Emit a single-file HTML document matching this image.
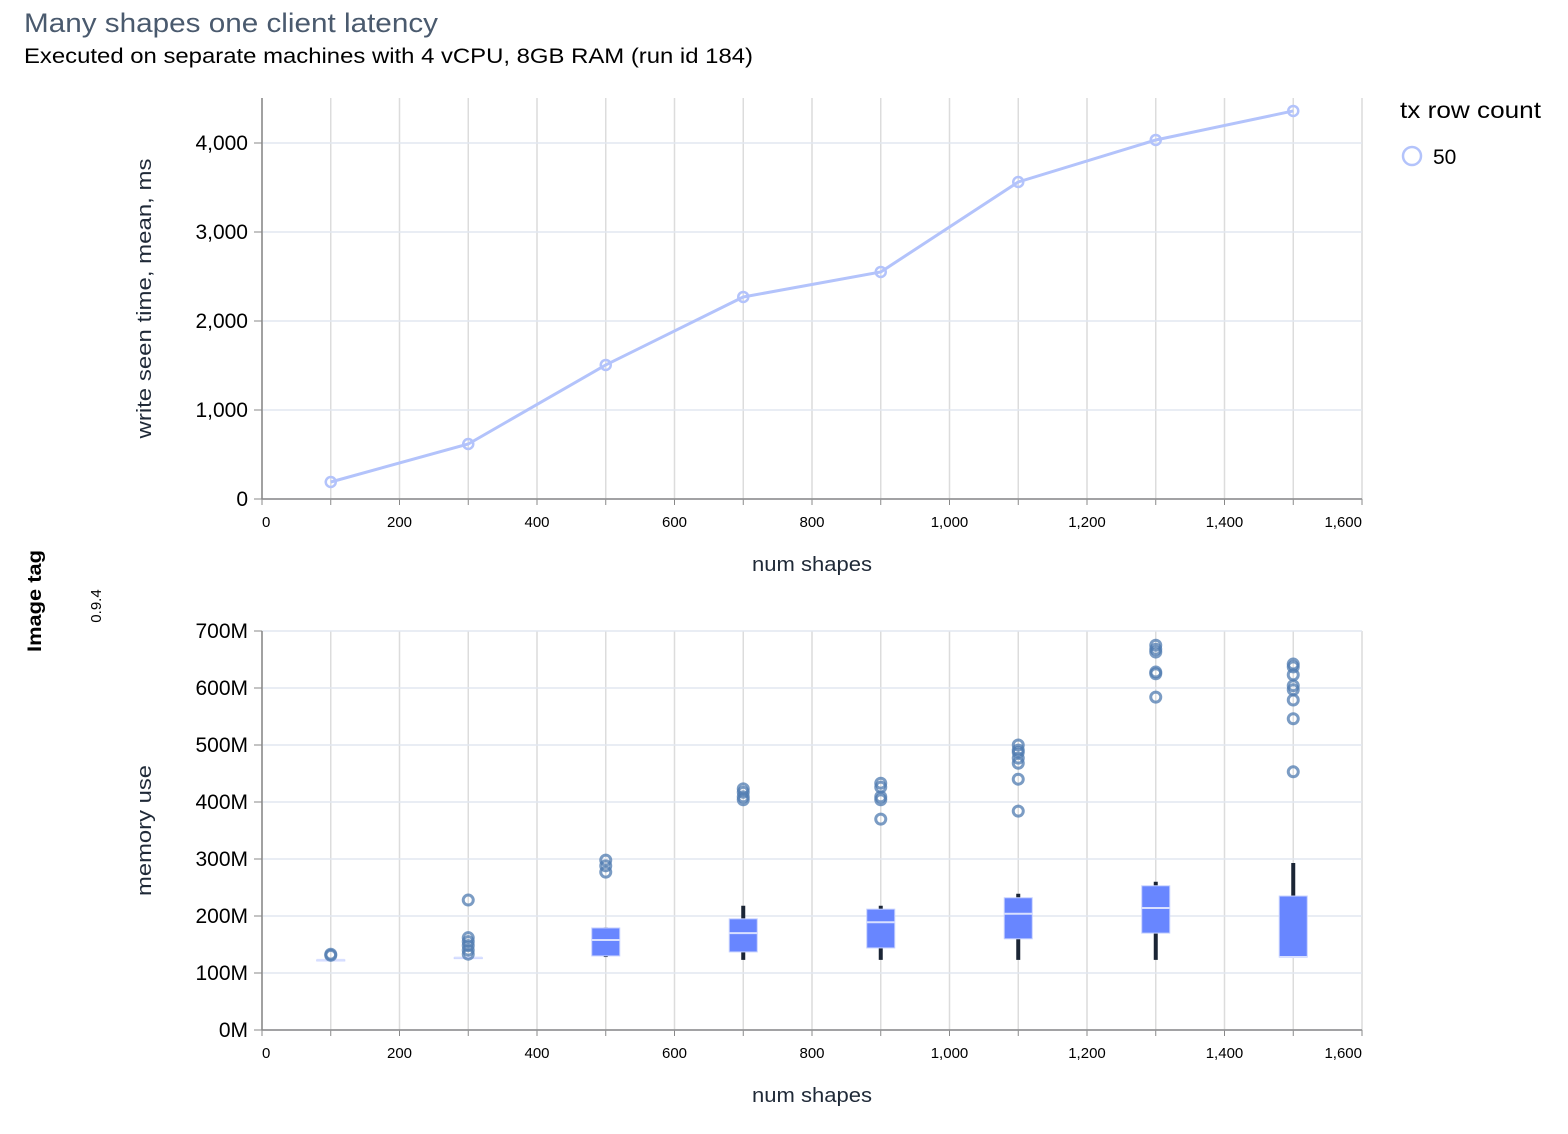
<!DOCTYPE html>
<html><head><meta charset="utf-8"><style>
html,body{margin:0;padding:0;background:#fff;}
svg{display:block;font-family:"Liberation Sans",Arial,sans-serif;}
</style></head><body>
<svg id="chart" width="1568" height="1134" viewBox="0 0 1568 1134">
<text x="24" y="32" font-size="27" textLength="414" lengthAdjust="spacingAndGlyphs" fill="#4a5a6e">Many shapes one client latency</text>
<text x="24" y="63" font-size="21" textLength="729" lengthAdjust="spacingAndGlyphs" fill="#000">Executed on separate machines with 4 vCPU, 8GB RAM (run id 184)</text>
<text transform="translate(41,601) rotate(-90)" font-size="19" textLength="102" lengthAdjust="spacingAndGlyphs" font-weight="bold" text-anchor="middle" fill="#000">Image tag</text>
<text transform="translate(101,606) rotate(-90)" font-size="15" text-anchor="middle" fill="#000">0.9.4</text>
<text x="1400" y="118" font-size="23" textLength="141" lengthAdjust="spacingAndGlyphs" fill="#000">tx row count</text>
<circle cx="1412" cy="156" r="9" fill="none" stroke="#b3c3fb" stroke-width="2.5"/>
<text x="1433" y="164" font-size="21" fill="#000">50</text>
<g id="top"></g>
<g id="bot"></g>
</svg>
<script>
const shapes = [100,300,500,700,900,1100,1300,1500];
const latency = [191,618,1506,2270,2551,3562,4034,4360];
const latencyTicks = [0,1000,2000,3000,4000];
const xTicks = [0,200,400,600,800,1000,1200,1400,1600];
const memTicks = [0,100,200,300,400,500,600,700];
const memQ1 = [123,127,130,137,144,160,170,128];
const memMedian = [123,127,158,170,189,204,214,128];
const memQ3 = [123,127,179,195,212,232,253,235];
const memLow = [123,127,128,123,123,123,123,127];
const memHigh = [123,127,180,218,218,239,260,293];
const memOutliers = [
  [133,131],
  [228,162,155,148,140,133],
  [298,288,277],
  [423,417,409,404],
  [433,426,409,404,370],
  [500,491,487,477,468,440,384],
  [675,668,663,628,625,584],
  [642,637,623,604,597,579,546,453]
];
const NS='http://www.w3.org/2000/svg';
const X0=262,X1=1362;
const xs=v=>X0+(v/1600)*(X1-X0);
function el(p,t,a){const e=document.createElementNS(NS,t);for(const k in a)e.setAttribute(k,a[k]);p.appendChild(e);return e;}
function frame(g,top,bot,yScale,yTicks,fmt,yTitle,yTitleLen){
  for(let v=0;v<=1600;v+=100){const l=el(g,'line',{x1:xs(v),x2:xs(v),y1:top,y2:bot,stroke:'#dcdcdc','stroke-width':1.5});
  
  
  const t=el(g,'line',{x1:xs(v),x2:xs(v),y1:bot,y2:bot+6,stroke:'#888','stroke-width':1});
  
  }
  yTicks.forEach(v=>{const y=yScale(v);const l=el(g,'line',{x1:X0,x2:X1,y1:y,y2:y,stroke:'#e2e7f0','stroke-width':1.5});
  
  
  el(g,'line',{x1:X0-8,x2:X0,y1:y,y2:y,stroke:'#888'});
  const t=el(g,'text',{x:X0-14,y:y+7,'font-size':21,'text-anchor':'end',fill:'#000'});t.textContent=fmt(v);
  
  });
  el(g,'line',{x1:X0,x2:X0,y1:top,y2:bot,stroke:'#888','stroke-width':1.5});
  el(g,'line',{x1:X0,x2:X1,y1:bot,y2:bot,stroke:'#888','stroke-width':1.5});
  xTicks.forEach((v,i)=>{const anchor=i===0?'start':(i===xTicks.length-1?'end':'middle');
  const t=el(g,'text',{x:xs(v),y:bot+28,'font-size':15,'text-anchor':anchor,fill:'#000'});t.textContent=v.toLocaleString('en-US');
  
  });
  const xt=el(g,'text',{x:812,y:bot+72,'font-size':20,'text-anchor':'middle',textLength:120,lengthAdjust:'spacingAndGlyphs',fill:'#1f2937'});xt.textContent='num shapes';
  
  
  const yt=el(g,'text',{transform:`translate(151,${(top+bot)/2}) rotate(-90)`,'font-size':20,'text-anchor':'middle',textLength:yTitleLen,lengthAdjust:'spacingAndGlyphs',fill:'#1f2937'});yt.textContent=yTitle;
  
  
}
// top
const gt=document.getElementById('top');
const yt=v=>499-v*0.089;
frame(gt,98,499,yt,latencyTicks,v=>v.toLocaleString('en-US'),'write seen time, mean, ms',280);
const line=el(gt,'polyline',{points:shapes.map((s,i)=>xs(s)+','+yt(latency[i])).join(' '),fill:'none',stroke:'#b3c3fb','stroke-width':3});


shapes.forEach((s,i)=>{const c=el(gt,'circle',{cx:xs(s),cy:yt(latency[i]),r:5,fill:'none',stroke:'#b3c3fb','stroke-width':2.5});

});
// bottom
const gb=document.getElementById('bot');
const yb=v=>1030-v*0.57;
frame(gb,631,1030,yb,memTicks,v=>v+'M','memory use',131);
shapes.forEach((s,i)=>{
  const x=xs(s);
  const w=el(gb,'line',{x1:x,x2:x,y1:yb(memLow[i]),y2:yb(memHigh[i]),stroke:'#1b2535','stroke-width':4});
  
  
  const h=Math.max(1,yb(memQ1[i])-yb(memQ3[i]));
  const b=el(gb,'rect',{x:x-14,y:yb(memQ3[i]),width:28,height:h,fill:'#6886ff',stroke:'#c5d0ff','stroke-width':1});
  
  
  const m=el(gb,'line',{x1:x-14,x2:x+14,y1:yb(memMedian[i]),y2:yb(memMedian[i]),stroke:'#d9e0ff','stroke-width':2});
  
  
  memOutliers[i].forEach(v=>{const c=el(gb,'circle',{cx:x,cy:yb(v),r:5,fill:'none',stroke:'#4f7bb0','stroke-width':3,'stroke-opacity':0.75});
  
  });
});
</script>
</body></html>
